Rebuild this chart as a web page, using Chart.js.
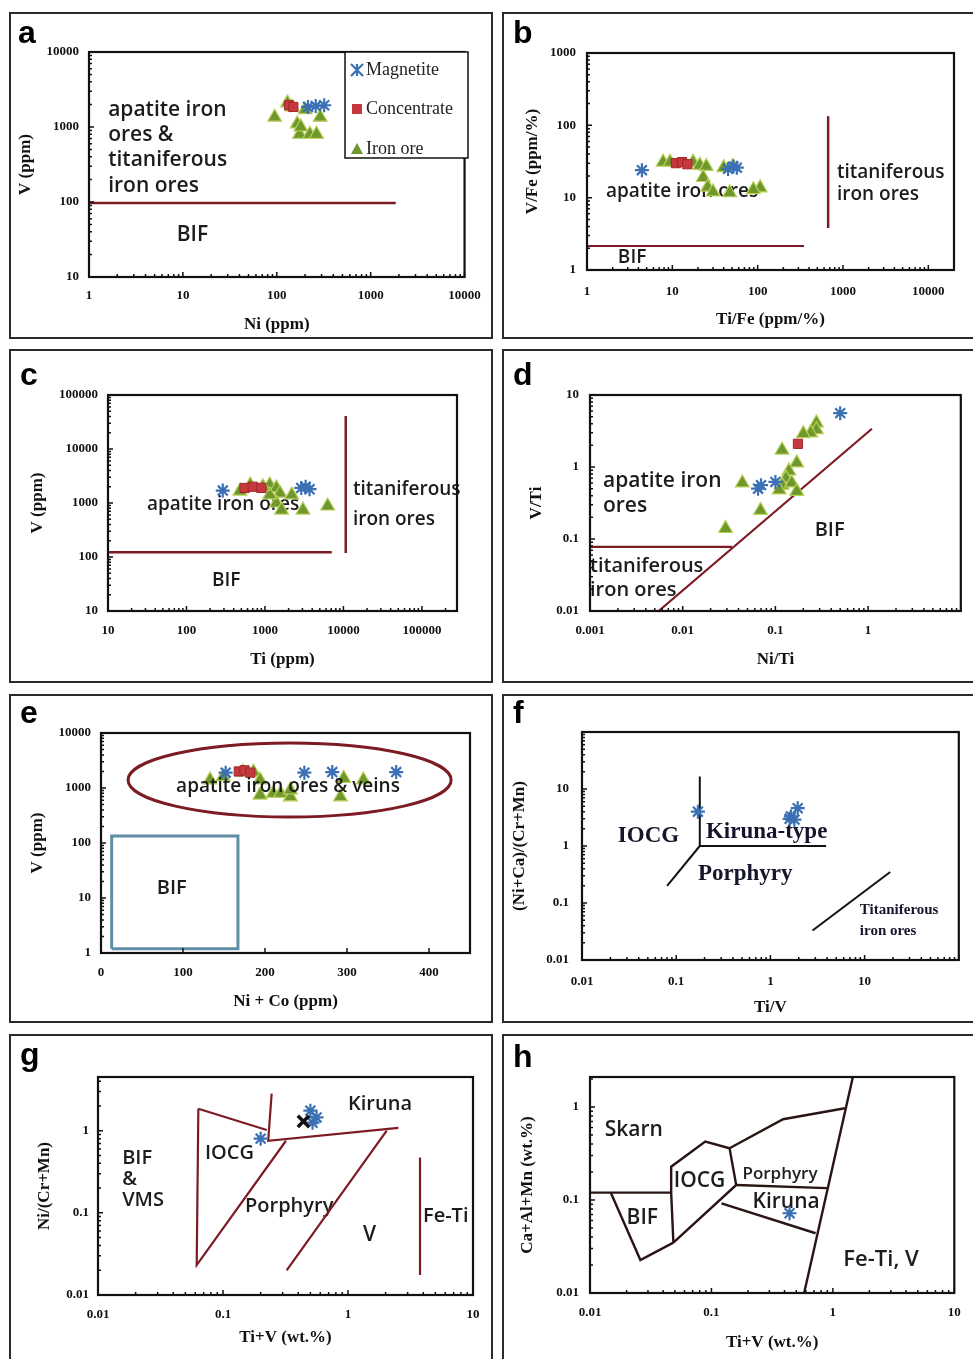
<!DOCTYPE html>
<html>
<head>
<meta charset="UTF-8">
<title>Discrimination diagrams</title>
<script src="https://cdn.jsdelivr.net/npm/chart.js@4.4.1/dist/chart.umd.min.js"></script>
<style>
  html, body { margin: 0; padding: 0; background: #fff; overflow: hidden; }
  body { width: 973px; height: 1359px; position: relative; }
  .frame { position: absolute; border: 2px solid #2b2b2b; box-sizing: border-box; pointer-events: none; }
</style>
</head>
<body>
<script>
// ---- data ----
// a: V vs Ni
var aMagX = [215, 260, 320], aMagY = [1850, 1900, 1950];
var aConX = [135, 150], aConY = [1950, 1850];
var aOreX = [95, 130, 145, 165, 175, 180, 225, 265, 290, 200];
var aOreY = [1350, 2100, 1850, 1100, 800, 1000, 800, 800, 1350, 1700];
var aXTicks = [1, 10, 100, 1000, 10000], aYTicks = [10, 100, 1000, 10000];
var aLine = [[1, 97], [1850, 97]];

// b: V/Fe vs Ti/Fe
var bMagX = [4.4, 45, 52, 57], bMagY = [24, 25, 27, 26];
var bConX = [11, 13, 15], bConY = [30, 31, 29];
var bOreX = [7.8, 9.4, 17.5, 21, 25, 23, 26, 30, 47, 51, 107, 40, 89];
var bOreY = [31, 31, 31, 28, 27, 19, 14, 12, 11.7, 27, 13.7, 26, 12.9];
var bXTicks = [1, 10, 100, 1000, 10000], bYTicks = [1, 10, 100, 1000];
var bLineH = [[1, 2.15], [350, 2.15]], bLineV = [[670, 133], [670, 3.8]];

// c: V vs Ti
var cMagX = [290, 2900, 3300, 3700], cMagY = [1700, 1900, 2000, 1800];
var cConX = [550, 700, 900], cConY = [1900, 2000, 1900];
var cOreX = [480, 650, 1150, 1400, 1550, 1400, 1630, 2200, 3050, 6300, 1150, 940];
var cOreY = [1660, 2150, 2150, 1900, 1520, 1000, 740, 1410, 740, 880, 1410, 2000];
var cXTicks = [10, 100, 1000, 10000, 100000], cYTicks = [10, 100, 1000, 10000, 100000];
var cLineH = [[10, 123], [7100, 123]], cLineV = [[10700, 40700], [10700, 118]];

// d: V/Ti vs Ni/Ti
var dMagX = [0.5, 0.065, 0.07, 0.1], dMagY = [5.6, 0.5, 0.56, 0.62];
var dConX = [0.175], dConY = [2.1];
var dOreX = [0.277, 0.277, 0.24, 0.2, 0.118, 0.17, 0.14, 0.13, 0.118, 0.11, 0.15, 0.17, 0.044, 0.069, 0.029];
var dOreY = [4.1, 3.3, 2.97, 2.9, 1.72, 1.14, 0.88, 0.7, 0.56, 0.48, 0.6, 0.46, 0.6, 0.25, 0.14];
var dXTicks = [0.001, 0.01, 0.1, 1], dYTicks = [0.01, 0.1, 1, 10];
var dLineDiag = [[0.0055, 0.01], [1.1, 3.4]], dLineH = [[0.001, 0.0776], [0.034, 0.0776]];

// e: V vs Ni + Co
var eMagX = [152, 248, 282, 360], eMagY = [1900, 1900, 1950, 1950];
var eConX = [168, 175, 182], eConY = [2000, 2100, 1900];
var eOreX = [133, 149, 173, 186, 194, 194, 210, 219, 231, 231, 296, 292, 320];
var eOreY = [1400, 1600, 1950, 1950, 1400, 745, 800, 800, 690, 920, 1500, 690, 1400];
var eXTicks = [0, 100, 200, 300, 400], eYTicks = [1, 10, 100, 1000, 10000];
var eBifBox = [[13, 1.2], [167, 1.2], [167, 134], [13, 134], [13, 1.2]];
var eField = { x0: 33, x1: 427, y0: 297, y1: 6580 };

// f: (Ni+Ca)/(Cr+Mn) vs Ti/V
var fMagX = [0.17, 1.65, 1.95, 1.8, 1.6], fMagY = [4.0, 3.3, 4.6, 2.9, 3.0];
var fXTicks = [0.01, 0.1, 1, 10], fYTicks = [0.01, 0.1, 1, 10];
var fLineV = [[0.178, 16.5], [0.178, 1]], fLineH = [[0.178, 1], [3.9, 1]];
var fLineDiag = [[0.178, 1], [0.08, 0.2]], fLineTi = [[2.8, 0.033], [18.7, 0.35]];

// g: Ni/(Cr+Mn) vs Ti+V
var gMagX = [0.5, 0.56, 0.52, 0.2], gMagY = [1.75, 1.45, 1.25, 0.8];
var gBlkX = [0.44], gBlkY = [1.3];
var gXTicks = [0.01, 0.1, 1, 10], gYTicks = [0.01, 0.1, 1];
var gLeft = [[0.0635, 1.85], [0.0616, 0.0231], [0.319, 0.754]];
var gTop = [[0.0635, 1.85], [0.224, 1.02]];
var gKir = [[0.245, 2.82], [0.23, 0.754], [2.53, 1.08]];
var gPorV = [[0.323, 0.02], [2.04, 1.0]];
var gFeTi = [[3.77, 0.47], [3.77, 0.0175]];

// h: Ca+Al+Mn vs Ti+V
var hMagX = [0.44], hMagY = [0.072];
var hXTicks = [0.01, 0.1, 1, 10], hYTicks = [0.01, 0.1, 1];
var hSkarnBif = [[0.01, 0.12], [0.0466, 0.12]];
var hBif = [[0.0149, 0.118], [0.026, 0.0226], [0.0486, 0.0348]];
var hIocg = [[0.0486, 0.0348], [0.0466, 0.12], [0.0466, 0.228], [0.089, 0.424], [0.141, 0.36], [0.16, 0.145], [0.0486, 0.0348]];
var hPorKir = [[0.16, 0.145], [0.893, 0.134]];
var hKirBase = [[0.121, 0.092], [0.721, 0.0439]];
var hTop = [[0.141, 0.36], [0.389, 0.738], [1.256, 0.968]];
var hFeTi = [[1.46, 2.09], [0.58, 0.01]];

// ---- helpers ----
var RED = '#7d1b25';
var SANS = '"Open Sans"';
var SERIF = '"Liberation Serif"';

function pts(xs, ys) { return xs.map(function (x, i) { return { x: x, y: ys[i] }; }); }
function pairs(arr) { return arr.map(function (p) { return { x: p[0], y: p[1] }; }); }

function magnetite(xs, ys) {
  return { label: 'Magnetite', data: pts(xs, ys), pointStyle: 'star', pointRadius: 7,
    pointBorderColor: '#3b70b4', pointBackgroundColor: '#3b70b4', pointBorderWidth: 2.2, order: 1 };
}
function concentrate(xs, ys) {
  return { label: 'Concentrate', data: pts(xs, ys), pointStyle: 'rect', pointRadius: 6.5,
    pointBorderColor: '#a3272c', pointBackgroundColor: '#c5393e', pointBorderWidth: 1, order: 2 };
}
function ironOre(xs, ys) {
  return { label: 'Iron ore', data: pts(xs, ys), pointStyle: 'triangle', pointRadius: 8,
    pointBorderColor: '#b8cf58', pointBackgroundColor: '#6e982d', pointBorderWidth: 1.2, order: 3 };
}
function boundary(arr, color, width) {
  return { label: '', data: pairs(arr), showLine: true, borderColor: color, borderWidth: width,
    pointRadius: 0, order: 9 };
}

function logTicks(min, max) {
  var out = [];
  var e0 = Math.floor(Math.log10(min) + 1e-9), e1 = Math.ceil(Math.log10(max));
  for (var e = e0; e <= e1; e++) {
    for (var k = 1; k <= 9; k++) {
      var v = e < 0 ? k / Math.pow(10, -e) : k * Math.pow(10, e);
      if (v >= min * (1 - 1e-9) && v <= max * (1 + 1e-9)) out.push(v);
    }
  }
  return out;
}
function isMajor(v, majors) {
  for (var i = 0; i < majors.length; i++) {
    if (Math.abs(v - majors[i]) <= Math.abs(majors[i]) * 1e-6 + 1e-12) return true;
  }
  return false;
}
function isDecade(v) {
  if (v <= 0) return false;
  var l = Math.log10(v);
  return Math.abs(l - Math.round(l)) < 1e-6;
}

var tickFont = { family: SERIF, size: 13, weight: 'bold' };
var titleFont = { family: SERIF, size: 17, weight: 'bold' };
var LH = 17 * 1.2;

function drawLegend(ctx, chart, p) {
  var L = p.legend, ox = p.box[0], oy = p.box[1];
  ctx.save();
  ctx.strokeStyle = '#111'; ctx.lineWidth = 1.5;
  ctx.fillStyle = '#fff';
  ctx.fillRect(L.x0 - ox, L.y0 - oy, L.x1 - L.x0, L.y1 - L.y0);
  ctx.strokeRect(L.x0 - ox, L.y0 - oy, L.x1 - L.x0, L.y1 - L.y0);
  var items = chart.data.datasets.filter(function (d) { return d.label; });
  items.forEach(function (d, i) {
    var cx = L.mx - ox, cy = L.rows[i] - oy, r = 6;
    ctx.strokeStyle = d.pointBorderColor; ctx.fillStyle = d.pointBackgroundColor;
    ctx.lineWidth = 2.2;
    if (d.pointStyle === 'star') {
      ctx.beginPath();
      ctx.moveTo(cx - r, cy - r); ctx.lineTo(cx + r, cy + r);
      ctx.moveTo(cx + r, cy - r); ctx.lineTo(cx - r, cy + r);
      ctx.moveTo(cx, cy - r); ctx.lineTo(cx, cy + r);
      ctx.stroke();
    } else if (d.pointStyle === 'rect') {
      ctx.fillRect(cx - 5, cy - 5, 10, 10);
    } else {
      ctx.beginPath();
      ctx.moveTo(cx, cy - 6); ctx.lineTo(cx + 6, cy + 5); ctx.lineTo(cx - 6, cy + 5);
      ctx.closePath(); ctx.fill();
    }
    ctx.fillStyle = '#222';
    ctx.font = '18px ' + SERIF;
    ctx.textAlign = 'left'; ctx.textBaseline = 'middle';
    ctx.fillText(d.label, L.tx - ox, cy);
  });
  ctx.restore();
}

function drawTexts(chart, p) {
  var ctx = chart.ctx, xs = chart.scales.x, ys = chart.scales.y;
  ctx.save();
  ctx.textAlign = 'left'; ctx.textBaseline = 'middle';
  p.texts.forEach(function (t) {
    ctx.font = t.font || p.textFont;
    ctx.fillStyle = p.textColor || '#1c1c1c';
    var px = xs.getPixelForValue(t.x), py = ys.getPixelForValue(t.y);
    t.lines.forEach(function (s, i) { ctx.fillText(s, px, py + i * (t.gap || 0)); });
  });
  ctx.restore();
}

function makePanel(p) {
  var bx = p.box, W = bx[2] - bx[0], H = bx[3] - bx[1];
  var cv = document.createElement('canvas');
  cv.width = W; cv.height = H;
  cv.style.cssText = 'position:absolute;left:' + bx[0] + 'px;top:' + bx[1] + 'px;width:' + W + 'px;height:' + H + 'px';
  document.body.appendChild(cv);
  var fr = document.createElement('div');
  fr.className = 'frame';
  fr.style.left = bx[0] + 'px'; fr.style.top = bx[1] + 'px';
  fr.style.width = (W + (bx[2] >= 973 ? 10 : 1)) + 'px';
  fr.style.height = (H + (bx[3] >= 1359 ? 10 : 1)) + 'px';
  document.body.appendChild(fr);

  var pl = p.plot;
  var yW = pl[0] - p.yTitleX + LH / 2;
  var xH = p.xTitleY - pl[3] + LH / 2;
  var pad = { left: pl[0] - yW - bx[0], top: pl[1] - bx[1], right: bx[2] - pl[2], bottom: bx[3] - pl[3] - xH };

  var decor = {
    id: 'decor',
    beforeDatasetsDraw: function (chart) {
      var ctx = chart.ctx, xs = chart.scales.x, ys = chart.scales.y;
      if (p.ellipse) {
        var e = p.ellipse;
        var x0 = xs.getPixelForValue(e.x0), x1 = xs.getPixelForValue(e.x1);
        var y0 = ys.getPixelForValue(e.y0), y1 = ys.getPixelForValue(e.y1);
        ctx.save();
        ctx.strokeStyle = RED; ctx.lineWidth = 3;
        ctx.beginPath();
        ctx.ellipse((x0 + x1) / 2, (y0 + y1) / 2, Math.abs(x1 - x0) / 2, Math.abs(y1 - y0) / 2, 0, 0, 2 * Math.PI);
        ctx.stroke();
        ctx.restore();
      }
      if (!p.textOnTop) drawTexts(chart, p);
    },
    afterDatasetsDraw: function (chart) {
      var ctx = chart.ctx, a = chart.chartArea, xs = chart.scales.x, ys = chart.scales.y;
      if (p.textOnTop) drawTexts(chart, p);
      ctx.save();
      ctx.strokeStyle = '#111';
      ctx.lineWidth = 1.5;
      ctx.beginPath();
      xs.ticks.forEach(function (t) {
        var x = xs.getPixelForValue(t.value);
        var len = (p.xLinear || isDecade(t.value)) ? 5 : 3;
        ctx.moveTo(x, a.bottom); ctx.lineTo(x, a.bottom - len);
      });
      ys.ticks.forEach(function (t) {
        var y = ys.getPixelForValue(t.value);
        var len = isDecade(t.value) ? 5 : 3;
        ctx.moveTo(a.left, y); ctx.lineTo(a.left + len, y);
      });
      ctx.stroke();
      ctx.lineWidth = 2.2;
      ctx.strokeRect(a.left, a.top, a.right - a.left, a.bottom - a.top);
      ctx.fillStyle = '#000';
      ctx.font = 'bold 32px "Liberation Sans"';
      ctx.textAlign = 'left'; ctx.textBaseline = 'alphabetic';
      ctx.fillText(p.letter, p.letterAt[0] - bx[0], p.letterAt[1] - bx[1]);
      ctx.restore();
      if (p.legend) drawLegend(ctx, chart, p);
    }
  };

  function axis(type, min, max, majors, title, tickPad, isX) {
    return {
      type: type, min: min, max: max,
      afterBuildTicks: function (s) {
        var list = type === 'linear' ? majors.slice() : logTicks(min, max);
        s.ticks = list.map(function (v) { return { value: v }; });
      },
      afterFit: function (s) { if (isX) s.height = xH; else s.width = yW; },
      grid: { display: false, drawTicks: false },
      border: { display: false },
      ticks: {
        autoSkip: false, maxRotation: 0, padding: tickPad, font: tickFont, color: '#111',
        callback: function (v) { return isMajor(v, majors) ? String(v) : ''; }
      },
      title: { display: true, text: title, font: titleFont, color: '#111', padding: 0 }
    };
  }

  new Chart(cv, {
    type: 'scatter',
    data: { datasets: p.datasets },
    options: {
      responsive: false, animation: false, devicePixelRatio: 1, events: [],
      layout: { padding: pad },
      plugins: { legend: { display: false }, tooltip: { enabled: false } },
      scales: {
        x: axis(p.xLinear ? 'linear' : 'logarithmic', p.xRange[0], p.xRange[1], p.xTicks, p.xTitle, p.xTickPad, true),
        y: axis('logarithmic', p.yRange[0], p.yRange[1], p.yTicks, p.yTitle, p.yTickPad, false)
      }
    },
    plugins: [decor]
  });
}

// ---- panels ----
makePanel({
  letter: 'a', letterAt: [18, 43], box: [9, 12, 492, 338], plot: [89, 52, 470, 277],
  yTitleX: 26, xTitleY: 325, xTickPad: 11.2, yTickPad: 10,
  xRange: [1, 10000], yRange: [10, 10000], xTicks: aXTicks, yTicks: aYTicks,
  xTitle: 'Ni (ppm)', yTitle: 'V (ppm)',
  datasets: [magnetite(aMagX, aMagY), concentrate(aConX, aConY), ironOre(aOreX, aOreY), boundary(aLine, RED, 2.5)],
  textFont: '600 21px ' + SANS,
  texts: [
    { x: 1.6, y: 1700, lines: ['apatite iron', 'ores &', 'titaniferous', 'iron ores'], gap: 25.3 },
    { x: 8.6, y: 36, lines: ['BIF'] }
  ],
  legend: { x0: 345, y0: 52, x1: 468, y1: 158, mx: 357, tx: 366, rows: [70, 109, 149] }
});

makePanel({
  letter: 'b', letterAt: [513, 43], box: [502, 12, 973, 338], plot: [587, 53, 954, 270],
  yTitleX: 533, xTitleY: 320, xTickPad: 14.2, yTickPad: 11,
  xRange: [1, 20000], yRange: [1, 1000], xTicks: bXTicks, yTicks: bYTicks,
  xTitle: 'Ti/Fe (ppm/%)', yTitle: 'V/Fe (ppm/%)',
  datasets: [magnetite(bMagX, bMagY), concentrate(bConX, bConY), ironOre(bOreX, bOreY),
    boundary(bLineH, RED, 2), boundary(bLineV, RED, 2.5)],
  textFont: '600 19px ' + SANS,
  texts: [
    { x: 850, y: 22, lines: ['titaniferous', 'iron ores'], gap: 22 },
    { x: 1.67, y: 12.1, lines: ['apatite iron ores'] },
    { x: 2.3, y: 1.47, lines: ['BIF'] }
  ]
});

makePanel({
  letter: 'c', letterAt: [20, 385], box: [9, 349, 492, 682], plot: [108, 395, 457, 611],
  yTitleX: 38, xTitleY: 660, xTickPad: 12.2, yTickPad: 10,
  xRange: [10, 280000], yRange: [10, 100000], xTicks: cXTicks, yTicks: cYTicks,
  xTitle: 'Ti (ppm)', yTitle: 'V (ppm)',
  datasets: [magnetite(cMagX, cMagY), concentrate(cConX, cConY), ironOre(cOreX, cOreY),
    boundary(cLineH, RED, 2.5), boundary(cLineV, RED, 2.5)],
  textFont: '600 19px ' + SANS,
  texts: [
    { x: 13200, y: 1740, lines: ['titaniferous', 'iron ores'], gap: 30 },
    { x: 31.4, y: 918, lines: ['apatite iron ores'] },
    { x: 211, y: 36, lines: ['BIF'] }
  ]
});

makePanel({
  letter: 'd', letterAt: [513, 385], box: [502, 349, 973, 682], plot: [590, 395, 965, 611],
  yTitleX: 537, xTitleY: 660, xTickPad: 12.2, yTickPad: 11,
  xRange: [0.001, 10], yRange: [0.01, 10], xTicks: dXTicks, yTicks: dYTicks,
  xTitle: 'Ni/Ti', yTitle: 'V/Ti',
  datasets: [magnetite(dMagX, dMagY), concentrate(dConX, dConY), ironOre(dOreX, dOreY),
    boundary(dLineDiag, RED, 2.2), boundary(dLineH, RED, 2.2)],
  textFont: '600 20px ' + SANS,
  texts: [
    { x: 0.00138, y: 0.64, lines: ['apatite iron', 'ores'], gap: 25, font: '600 21px ' + SANS },
    { x: 0.265, y: 0.133, lines: ['BIF'] },
    { x: 0.001, y: 0.042, lines: ['titaniferous', 'iron ores'], gap: 24 }
  ]
});

makePanel({
  letter: 'e', letterAt: [20, 723], box: [9, 694, 492, 1022], plot: [101, 733, 470, 953],
  yTitleX: 38, xTitleY: 1002, xTickPad: 12.2, yTickPad: 10, xLinear: true,
  xRange: [0, 450], yRange: [1, 10000], xTicks: eXTicks, yTicks: eYTicks,
  xTitle: 'Ni + Co (ppm)', yTitle: 'V (ppm)',
  datasets: [magnetite(eMagX, eMagY), concentrate(eConX, eConY), ironOre(eOreX, eOreY),
    boundary(eBifBox, '#5f8ea6', 3)],
  ellipse: eField, textOnTop: true,
  textFont: '600 19px ' + SANS,
  texts: [
    { x: 91.6, y: 1040, lines: ['apatite iron ores & veins'] },
    { x: 68, y: 15, lines: ['BIF'], font: '600 20px ' + SANS }
  ]
});

makePanel({
  letter: 'f', letterAt: [513, 723], box: [502, 694, 973, 1022], plot: [582, 732, 963, 960],
  yTitleX: 520, xTitleY: 1008, xTickPad: 14.2, yTickPad: 13,
  xRange: [0.01, 100], yRange: [0.01, 100], xTicks: fXTicks, yTicks: fYTicks,
  xTitle: 'Ti/V', yTitle: '(Ni+Ca)/(Cr+Mn)',
  datasets: [magnetite(fMagX, fMagY),
    boundary(fLineV, '#111', 2), boundary(fLineH, '#111', 2), boundary(fLineDiag, '#111', 2), boundary(fLineTi, '#111', 2)],
  textFont: 'bold 23px ' + SERIF, textColor: '#15152b',
  texts: [
    { x: 0.024, y: 1.49, lines: ['IOCG'] },
    { x: 0.207, y: 1.75, lines: ['Kiruna-type'] },
    { x: 0.17, y: 0.326, lines: ['Porphyry'] },
    { x: 8.9, y: 0.074, lines: ['Titaniferous', 'iron ores'], gap: 21, font: 'bold 15px ' + SERIF }
  ]
});

makePanel({
  letter: 'g', letterAt: [20, 1065], box: [9, 1034, 492, 1359], plot: [98, 1077, 473, 1295],
  yTitleX: 45, xTitleY: 1338, xTickPad: 12.2, yTickPad: 9,
  xRange: [0.01, 10], yRange: [0.01, 4.5], xTicks: gXTicks, yTicks: gYTicks,
  xTitle: 'Ti+V (wt.%)', yTitle: 'Ni/(Cr+Mn)',
  datasets: [
    { label: '', data: pts(gBlkX, gBlkY), pointStyle: 'crossRot', pointRadius: 8,
      pointBorderColor: '#111', pointBorderWidth: 3.5, order: 0 },
    magnetite(gMagX, gMagY),
    boundary(gLeft, RED, 2.2), boundary(gTop, RED, 2.2), boundary(gKir, RED, 2.2),
    boundary(gPorV, RED, 2.2), boundary(gFeTi, RED, 2.2)],
  textFont: '600 20px ' + SANS,
  texts: [
    { x: 1.0, y: 2.08, lines: ['Kiruna'] },
    { x: 0.0156, y: 0.467, lines: ['BIF', '&', 'VMS'], gap: 21 },
    { x: 0.0718, y: 0.537, lines: ['IOCG'] },
    { x: 0.15, y: 0.12, lines: ['Porphyry'] },
    { x: 1.32, y: 0.053, lines: ['V'], font: '600 21px ' + SANS },
    { x: 3.98, y: 0.0906, lines: ['Fe-Ti'] }
  ]
});

makePanel({
  letter: 'h', letterAt: [513, 1067], box: [502, 1034, 973, 1359], plot: [590, 1077, 964, 1293],
  yTitleX: 528, xTitleY: 1343, xTickPad: 12.2, yTickPad: 11,
  xRange: [0.01, 10], yRange: [0.01, 2.1], xTicks: hXTicks, yTicks: hYTicks,
  xTitle: 'Ti+V (wt.%)', yTitle: 'Ca+Al+Mn (wt.%)',
  datasets: [magnetite(hMagX, hMagY),
    boundary(hSkarnBif, '#2a1515', 2.4), boundary(hBif, '#2a1515', 2.4), boundary(hIocg, '#2a1515', 2.4),
    boundary(hPorKir, '#2a1515', 2.4), boundary(hKirBase, '#2a1515', 2.4), boundary(hTop, '#2a1515', 2.4),
    boundary(hFeTi, '#2a1515', 2.4)],
  textFont: '600 21px ' + SANS,
  texts: [
    { x: 0.0132, y: 0.566, lines: ['Skarn'] },
    { x: 0.049, y: 0.16, lines: ['IOCG'] },
    { x: 0.18, y: 0.19, lines: ['Porphyry'], font: '600 17px ' + SANS },
    { x: 0.218, y: 0.095, lines: ['Kiruna'] },
    { x: 0.02, y: 0.064, lines: ['BIF'] },
    { x: 1.22, y: 0.0226, lines: ['Fe-Ti, V'], font: '600 22px ' + SANS }
  ]
});
</script>
</body>
</html>
